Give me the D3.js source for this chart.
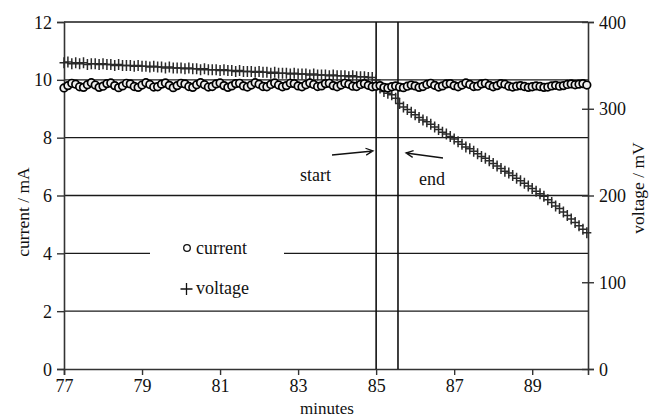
<!DOCTYPE html>
<html><head><meta charset="utf-8">
<script src="https://cdn.jsdelivr.net/npm/d3@7"></script>
<style>body{margin:0;background:#fff}svg{display:block}text{font-family:"Liberation Serif","Times New Roman","DejaVu Serif",serif}</style>
</head><body><div id="chart"></div>
<script>
// sampling grid (minutes), one sample every 0.1 min
const minutes = d3.range(0, 135).map(i => +(77 + i * 0.1).toFixed(1));
const current = [
 9.72,9.80,9.88,9.85,9.76,9.74,9.83,9.90,9.82,9.74,
 9.78,9.87,9.89,9.80,9.73,9.79,9.88,9.86,9.77,9.74,
 9.82,9.90,9.84,9.75,9.76,9.85,9.89,9.81,9.73,9.80,
 9.88,9.86,9.77,9.74,9.83,9.90,9.83,9.75,9.77,9.86,
 9.89,9.80,9.74,9.79,9.87,9.88,9.79,9.75,9.82,9.90,
 9.85,9.77,9.76,9.84,9.89,9.82,9.76,9.80,9.88,9.87,
 9.79,9.76,9.83,9.89,9.84,9.77,9.79,9.87,9.88,9.80,
 9.76,9.82,9.88,9.85,9.78,9.77,9.84,9.87,9.81,9.76,
 9.78,9.80,9.74,9.72,9.76,9.79,9.75,9.73,9.78,9.82,
 9.79,9.74,9.77,9.84,9.88,9.81,9.75,9.79,9.86,9.87,
 9.80,9.76,9.82,9.89,9.84,9.77,9.78,9.86,9.88,9.81,
 9.76,9.80,9.87,9.85,9.78,9.75,9.78,9.80,9.77,9.74,
 9.76,9.79,9.77,9.74,9.75,9.79,9.81,9.78,9.80,9.84,
 9.86,9.83,9.85,9.87,9.82];
const voltage = [
 353,354,352,353,352,353,351,352,352,351,
 352,351,351,350,351,350,350,350,349,350,
 349,349,348,349,348,348,347,348,347,347,
 347,346,347,346,346,345,346,345,345,345,
 344,345,344,344,343,344,343,343,343,342,
 343,342,342,341,342,341,341,341,340,341,
 340,340,340,339,340,339,339,339,338,339,
 338,338,338,337,338,337,337,337,336,336,
 333,324,320,318,316,312,306,302,299,296,
 293,290,287,285,282,279,276,273,271,268,
 265,262,259,256,254,251,248,245,243,240,
 237,234,231,228,226,223,220,217,214,211,
 208,205,202,199,195,192,188,185,181,177,
 173,169,165,161,157];
const xTicks = [77,79,81,83,85,87,89];
const yLeftTicks = [0,2,4,6,8,10,12];
const yRightTicks = [0,100,200,300,400];
const markerLines = [85.0, 85.56];
const labels = {x:"minutes", yLeft:"current / mA", yRight:"voltage / mV"};

const FONT = "'Liberation Serif','Times New Roman','DejaVu Serif',serif";
const W = 651, H = 418;
const svg = d3.select("#chart").append("svg").attr("width", W).attr("height", H)
  .attr("font-family", FONT);
const x = d3.scaleLinear().domain([77, 90.43]).range([64, 588]);
const yL = d3.scaleLinear().domain([0, 12]).range([369, 22]);
const yR = d3.scaleLinear().domain([0, 400]).range([369, 22]);

// gridlines
svg.append("g").selectAll("line").data(yLeftTicks.filter(d => d > 0)).join("line")
  .attr("x1", x.range()[0]).attr("x2", x.range()[1])
  .attr("y1", d => yL(d)).attr("y2", d => yL(d))
  .attr("stroke", "#1a1a1a").attr("stroke-width", 1.3);

// axes
const axL = svg.append("g").attr("transform", `translate(${x.range()[0]},0)`)
  .call(d3.axisLeft(yL).tickValues(yLeftTicks).tickSize(7).tickPadding(5));
const axR = svg.append("g").attr("transform", `translate(${x.range()[1]},0)`)
  .call(d3.axisRight(yR).tickValues(yRightTicks).tickSize(6).tickPadding(5));
const axB = svg.append("g").attr("transform", `translate(0,${yL(0)})`)
  .call(d3.axisBottom(x).tickValues(xTicks).tickSize(6).tickPadding(4).tickFormat(d3.format("d")));
[axL, axR, axB].forEach(a => {
  a.attr("font-family", FONT);
  a.select(".domain").attr("stroke", "#333").attr("stroke-width", 1.6);
  a.selectAll(".tick line").attr("stroke", "#333").attr("stroke-width", 1.4);
  a.selectAll(".tick text").attr("fill", "#111").attr("font-family", FONT).attr("font-size", 18);
});
axR.selectAll(".tick line").attr("x1", -6);
axL.selectAll(".tick text").attr("dy", "0.34em");
axR.selectAll(".tick text").attr("dy", "0.34em");

// vertical start/end lines
svg.append("g").selectAll("line").data(markerLines).join("line")
  .attr("x1", d => x(d)).attr("x2", d => x(d))
  .attr("y1", yL(12)).attr("y2", yL(0))
  .attr("stroke", "#111").attr("stroke-width", 1.6);

// voltage series (plus markers)
const data = minutes.map((m, i) => ({m, c: current[i], v: voltage[i]}));
const pw = 4.5, ph = 5.5;
svg.append("g").selectAll("path").data(data).join("path")
  .attr("transform", d => `translate(${x(d.m)},${yR(d.v)})`)
  .attr("d", `M${-pw},0H${pw}M0,${-ph}V${ph}`)
  .attr("stroke", "#2a2a2a").attr("stroke-width", 1.5).attr("fill", "none");

// current series (circle markers)
svg.append("g").selectAll("circle").data(data).join("circle")
  .attr("cx", d => x(d.m)).attr("cy", d => yL(d.c)).attr("r", 3.8)
  .attr("fill", "#eee").attr("stroke", "#000").attr("stroke-width", 1.7);

// legend
svg.append("rect").attr("x", 150).attr("y", 226).attr("width", 134).attr("height", 80).attr("fill", "#fff");
svg.append("circle").attr("cx", 187).attr("cy", 248).attr("r", 3.3)
  .attr("fill", "#fff").attr("stroke", "#111").attr("stroke-width", 1.3);
svg.append("text").attr("x", 196).attr("y", 254).text("current").attr("font-size", 18).attr("fill", "#111");
svg.append("path").attr("d", "M180.5,289H192.5M186.5,283V295").attr("stroke", "#111").attr("stroke-width", 1.3);
svg.append("text").attr("x", 196).attr("y", 294).text("voltage").attr("font-size", 18).attr("fill", "#111");

// annotations
svg.append("text").attr("x", 300).attr("y", 181).text("start").attr("font-size", 18).attr("fill", "#111");
svg.append("text").attr("x", 419).attr("y", 185).text("end").attr("font-size", 18).attr("fill", "#111");
function arrow(x1, y1, x2, y2) {
  const a = Math.atan2(y2 - y1, x2 - x1), L = 8, s = 0.45;
  svg.append("path")
    .attr("d", `M${x1},${y1}L${x2},${y2}M${x2 - L*Math.cos(a - s)},${y2 - L*Math.sin(a - s)}L${x2},${y2}L${x2 - L*Math.cos(a + s)},${y2 - L*Math.sin(a + s)}`)
    .attr("stroke", "#111").attr("stroke-width", 1.3).attr("fill", "none");
}
arrow(332, 155, 373, 151);
arrow(443, 158, 406, 153);

// axis titles
svg.append("text").attr("transform", "translate(29,212) rotate(-90)").attr("text-anchor", "middle")
  .text(labels.yLeft).attr("font-size", 17.5).attr("fill", "#111");
svg.append("text").attr("transform", "translate(644,188) rotate(-90)").attr("text-anchor", "middle")
  .text(labels.yRight).attr("font-size", 17.5).attr("fill", "#111");
svg.append("text").attr("x", 327).attr("y", 414).attr("text-anchor", "middle")
  .text(labels.x).attr("font-size", 17).attr("fill", "#111");
</script></body></html>
